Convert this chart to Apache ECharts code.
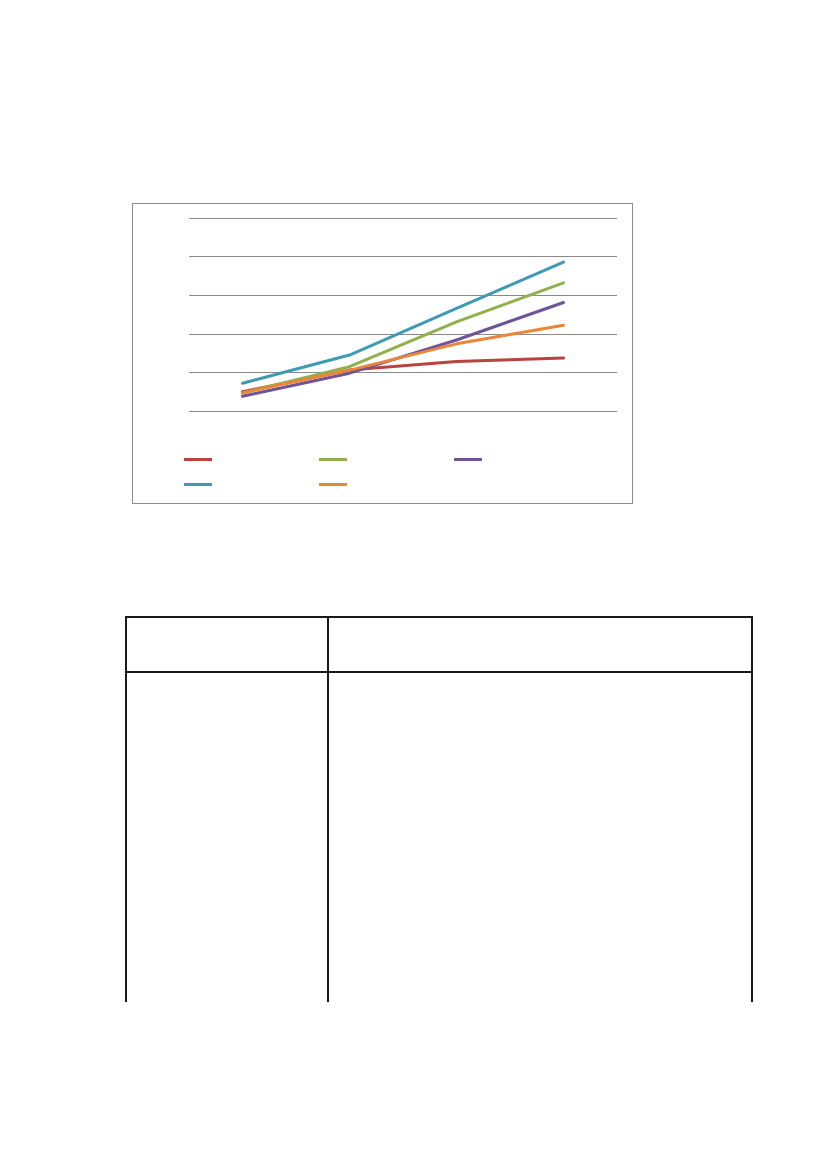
<!DOCTYPE html>
<html>
<head>
<meta charset="utf-8">
<script src="https://cdn.jsdelivr.net/npm/echarts@6/dist/echarts.min.js"></script>
<style>
  html, body { margin: 0; padding: 0; background: #fff; width: 826px; height: 1169px; overflow: hidden; font-family: "Liberation Sans", Arial, sans-serif; }
  #chart { position: absolute; left: 132px; top: 203px; width: 499px; height: 299px; border: 1px solid #8c8c8c; }
  .tline { position: absolute; background: #1a1a1a; }
</style>
</head>
<body>
<div id="chart"></div>
<!-- table frame -->
<div class="tline" style="left:125px; top:616px; width:628px; height:2px;"></div>
<div class="tline" style="left:125px; top:671px; width:628px; height:2px;"></div>
<div class="tline" style="left:125px; top:616px; width:2px; height:386px;"></div>
<div class="tline" style="left:327px; top:616px; width:2px; height:386px;"></div>
<div class="tline" style="left:751px; top:616px; width:2px; height:386px;"></div>
<script>
const categories = ['1', '2', '3', '4'];
const seriesNames = ['Series 1', 'Series 2', 'Series 3', 'Series 4', 'Series 5'];
const redValues = [0.50, 1.06, 1.28, 1.37];
const greenValues = [0.47, 1.15, 2.31, 3.32];
const purpleValues = [0.38, 0.98, 1.84, 2.81];
const cyanValues = [0.72, 1.45, 2.66, 3.86];
const orangeValues = [0.47, 1.06, 1.74, 2.22];
const colors = ['#b8433f', '#8fb04a', '#6f5497', '#3e9ab5', '#ec8537'];
const allValues = [redValues, greenValues, purpleValues, cyanValues, orangeValues];

const chart = echarts.init(document.getElementById('chart'), null, { renderer: 'canvas' });
const legendBase = {
  orient: 'horizontal',
  itemWidth: 28,
  itemHeight: 3,
  itemGap: 107,
  formatter: function () { return ''; },
  selectedMode: false,
  icon: 'rect'
};
chart.setOption({
  animation: false,
  color: colors,
  grid: { left: 56, top: 14, width: 428, height: 193, containLabel: false },
  legend: [
    Object.assign({}, legendBase, { left: 46, top: 249, data: seriesNames.slice(0, 3) }),
    Object.assign({}, legendBase, { left: 46, top: 274, data: seriesNames.slice(3, 5) })
  ],
  xAxis: {
    type: 'category',
    data: categories,
    boundaryGap: true,
    axisLine: { show: false },
    axisTick: { show: false },
    axisLabel: { show: false }
  },
  yAxis: {
    type: 'value',
    min: 0, max: 5, interval: 1,
    axisLine: { show: false },
    axisTick: { show: false },
    axisLabel: { show: false },
    splitLine: { lineStyle: { color: '#8a8a8a', width: 1 } }
  },
  series: allValues.map(function (vals, i) {
    return {
      name: seriesNames[i],
      type: 'line',
      data: vals,
      symbol: 'none',
      smooth: false,
      lineStyle: { width: 3, color: colors[i], cap: 'round' },
      itemStyle: { color: colors[i] }
    };
  })
});
</script>
</body>
</html>
